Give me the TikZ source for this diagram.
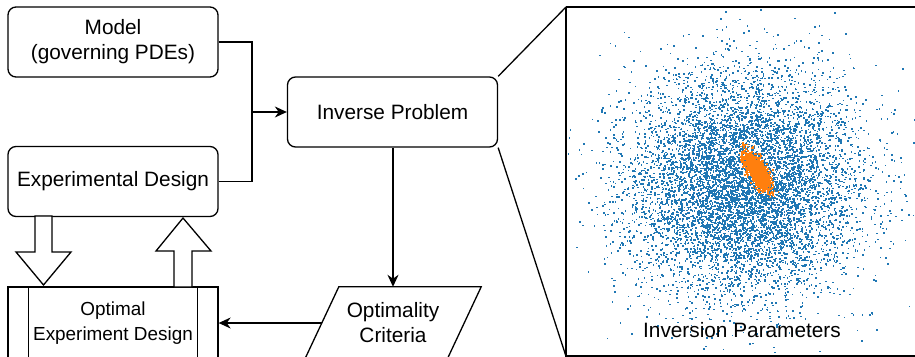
\documentclass[tikz,border=0pt]{standalone}
\usepackage{fontspec}
\setmainfont{Liberation Sans}
\usetikzlibrary{positioning,arrows.meta,calc}
\definecolor{scatblue}{HTML}{1F77B4}
\definecolor{scatorange}{HTML}{FF7F0E}

\tikzset{
  box/.style={draw, line width=1.3pt, rounded corners=8pt, minimum width=210pt,
    minimum height=70pt, align=center, inner sep=0pt, font=\fontsize{20.8}{25}\selectfont},
  procbox/.style={draw, line width=1.3pt, minimum width=210pt, minimum height=72pt,
    align=center, inner sep=0pt, font=\fontsize{18.9}{25}\selectfont},
  conn/.style={line width=1.3pt},
  arr/.style={line width=1.3pt, -{Stealth[length=12pt,width=11pt]}},
  fat/.style={draw, line width=1.3pt, fill=white, line join=miter}
}

\begin{document}
\begin{tikzpicture}[x=1pt, y=-1pt]
\useasboundingbox (0,0) rectangle (915,356);

% left column
\node[box] (model) at (113,42) {Model\\(governing PDEs)};
\node[box] (exp) at (113,181.5) {Experimental Design};
\node[procbox] (oed) at (113,323) {Optimal\\Experiment Design};
\draw[conn] ([xshift=21pt]oed.north west) -- ([xshift=21pt]oed.south west);
\draw[conn] ([xshift=-21pt]oed.north east) -- ([xshift=-21pt]oed.south east);

% middle column
\node[box] (inv) at (392.5,112) {Inverse Problem};
\node[minimum width=142pt, minimum height=72pt, inner sep=0pt, align=center,
  font=\fontsize{20.8}{25}\selectfont] (crit) at (393,323) {Optimality\\Criteria};
\draw[conn] ([xshift=17pt]crit.north west) -- ([xshift=17pt]crit.north east)
  -- ([xshift=-17pt]crit.south east) -- ([xshift=-17pt]crit.south west) -- cycle;

% connectors
\coordinate (join) at (252,112);
\draw[conn] (model.east) -| (join);
\draw[conn] (exp.east) -| (join);
\draw[arr] (join) -- (inv.west);
\draw[arr] (inv.south -| crit.north) -- (crit.north);
\draw[arr] (crit.west |- oed.east) -- (oed.east);

% block arrows
\draw[fat] (35,216) -- (52,216) -- (52,252) -- (71,252) -- (43.5,285)
  -- (16,252) -- (35,252) -- cycle;
\draw[fat] (174,287) -- (192,287) -- (192,251) -- (211,251) -- (183,218)
  -- (156,251) -- (174,251) -- cycle;

% scatter panel
\node[draw, line width=1.3pt, anchor=north west, minimum width=352pt,
  minimum height=348pt, inner sep=0pt] (panel) at (566,7) {};
\begin{scope}
  \clip (panel.north west) rectangle (panel.south east);
  \pgfmathsetseed{4242}
  \foreach \i in {1,...,8000}{
    \pgfmathsetmacro\rr{sqrt(-2*ln(0.001+0.999*rnd))}
    \pgfmathsetmacro\th{360*rnd}
    \fill[scatblue] ({743+58*\rr*cos(\th)},{185+56*\rr*sin(\th)}) rectangle ++(1.6,1.6);
  }
  \foreach \i in {1,...,1500}{
    \pgfmathsetmacro\rr{sqrt(-2*ln(0.001+0.999*rnd))}
    \pgfmathsetmacro\th{360*rnd}
    \pgfmathsetmacro\ua{10*\rr*cos(\th)}
    \pgfmathsetmacro\ub{4*\rr*sin(\th)}
    \fill[scatorange] ({757+\ua*cos(59)-\ub*sin(59)},{171+\ua*sin(59)+\ub*cos(59)})
      rectangle ++(1.7,1.7);
  }
\end{scope}
\draw[line width=1.3pt] (panel.north west) -- (panel.south west) -- (panel.south east);
\draw[line width=1.3pt] (panel.north west) -- (panel.north east);
\node[font=\fontsize{20.8}{25}\selectfont] (plabel) at (742,330) {Inversion Parameters};

% zoom lines
\draw[conn] (inv.north east) -- (panel.north west);
\draw[conn] (inv.south east) -- (panel.south west);
\end{tikzpicture}
\end{document}
